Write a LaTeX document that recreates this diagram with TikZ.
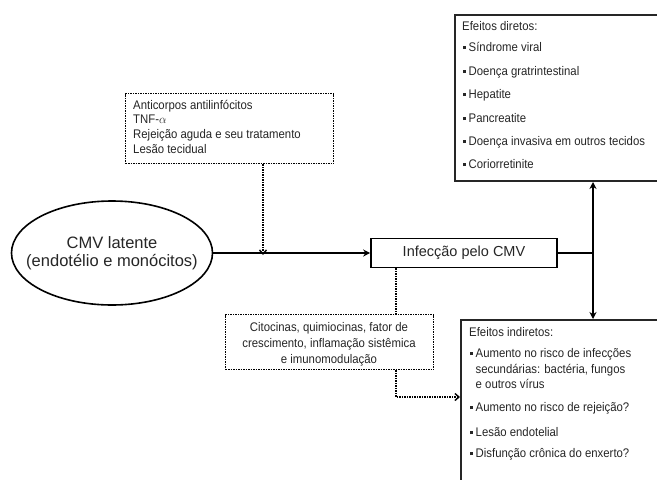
\documentclass[tikz,border=0pt]{standalone}
\usepackage{fontspec}
\setmainfont{Liberation Sans}
\newfontfamily\narrowfont{Liberation Sans}[FakeStretch=0.91]
\usetikzlibrary{arrows.meta,shapes.geometric}
\begin{document}
\begin{tikzpicture}[x=1pt,y=-1pt,
  txt/.style={anchor=base west,inner sep=0pt,font=\narrowfont\fontsize{12.5}{14}\selectfont,text=black!85},
  bigbox/.style={draw=black!85,line width=2pt,anchor=north west,inner sep=0pt},
  dotbox/.style={draw=black,line width=1.4pt,dash pattern=on 1.3pt off 1.2pt,inner sep=0pt,anchor=north west},
  dotline/.style={draw=black,line width=1.4pt,dash pattern=on 1.3pt off 1.2pt},
  solidline/.style={draw=black,line width=1.6pt},
  tip/.style={-{Stealth[length=7pt,width=7pt]}},
  dtip/.style={-{Straight Barb[length=4pt,width=7pt,line width=1.4pt]}}
]
\useasboundingbox (0,0) rectangle (657,480);
\clip (0,0) rectangle (657,480);
\fill[white] (0,0) rectangle (657,480);

% boxes
\node[bigbox,minimum width=260pt,minimum height=166pt] (direct) at (454,14) {};
\node[bigbox,minimum width=260pt,minimum height=200pt] (indirect) at (460,319) {};
\node[dotbox,minimum width=208pt,minimum height=70pt] (causes) at (125,93) {};
\node[dotbox,minimum width=208pt,minimum height=55pt] (cit) at (225,314) {};
\node[draw=black,line width=1.6pt,ellipse,minimum width=201pt,minimum height=104pt,inner sep=0pt] (cmv) at (112,253) {};
\node[align=center,inner sep=0pt,font=\fontsize{16.5}{18.5}\selectfont,text=black!85] (cmvtxt) at (cmv.center)
      {CMV latente\\(endotélio e monócitos)};
\node[draw=black,line width=1.6pt,minimum width=186pt,minimum height=29pt,inner sep=0pt,
      font=\fontsize{14.5}{16}\selectfont,text=black!85] (inf) at (464,253) {Infecção pelo CMV};

% texts: direct effects
\newcommand{\bul}{\rule[2pt]{3pt}{3pt}\hspace{2.5pt}}
\node[txt] (d0) at (462,30) {Efeitos diretos:};
\node[txt] (d1) at (463,51) {\bul Síndrome viral};
\node[txt] (d2) at (463,75) {\bul Doença gratrintestinal};
\node[txt] (d3) at (463,98) {\bul Hepatite};
\node[txt] (d4) at (463,122) {\bul Pancreatite};
\node[txt] (d5) at (463,145) {\bul Doença invasiva em outros tecidos};
\node[txt] (d6) at (463,168) {\bul Coriorretinite};

% texts: indirect effects
\node[txt] (i0) at (469,336) {Efeitos indiretos:};
\node[txt] (i1) at (470,357) {\bul Aumento no risco de infecções};
\node[txt] (i1b) at (475.5,373) {secundárias: bactéria, fungos};
\node[txt] (i1c) at (475.5,388) {e outros vírus};
\node[txt] (i2) at (470,411) {\bul Aumento no risco de rejeição?};
\node[txt] (i3) at (470,436) {\bul Lesão endotelial};
\node[txt] (i4) at (470,457) {\bul Disfunção crônica do enxerto?};

% texts: causes
\node[txt] (c1) at (133,109) {Anticorpos antilinfócitos};
\node[txt] (c2) at (133,123) {TNF-$\alpha$};
\node[txt] (c3) at (133,138) {Rejeição aguda e seu tratamento};
\node[txt] (c4) at (133,153) {Lesão tecidual};

% texts: cytokines
\node[txt,anchor=base] (k1) at (329,331) {Citocinas, quimiocinas, fator de};
\node[txt,anchor=base] (k2) at (329,347) {crescimento, inflamação sistêmica};
\node[txt,anchor=base] (k3) at (329,363) {e imunomodulação};

% connectors
\coordinate (mid) at (263,253);
\coordinate (junc) at (593,253);
\coordinate (dx) at (396,300);
\coordinate (ly) at (0,397);
\draw[solidline,tip] (cmv.east) -- (inf.west);
\draw[dotline,dtip] (mid |- causes.south) -- ([yshift=-2pt]mid);
\draw[solidline] (inf.east) -- (junc);
\draw[solidline,tip] (junc) -- (junc |- direct.south);
\draw[solidline,tip] (junc) -- (junc |- indirect.north);
\draw[dotline] (dx |- inf.south) -- (dx |- cit.north);
\draw[dotline,dtip] (dx |- cit.south) |- (indirect.west |- ly);
\end{tikzpicture}
\end{document}
